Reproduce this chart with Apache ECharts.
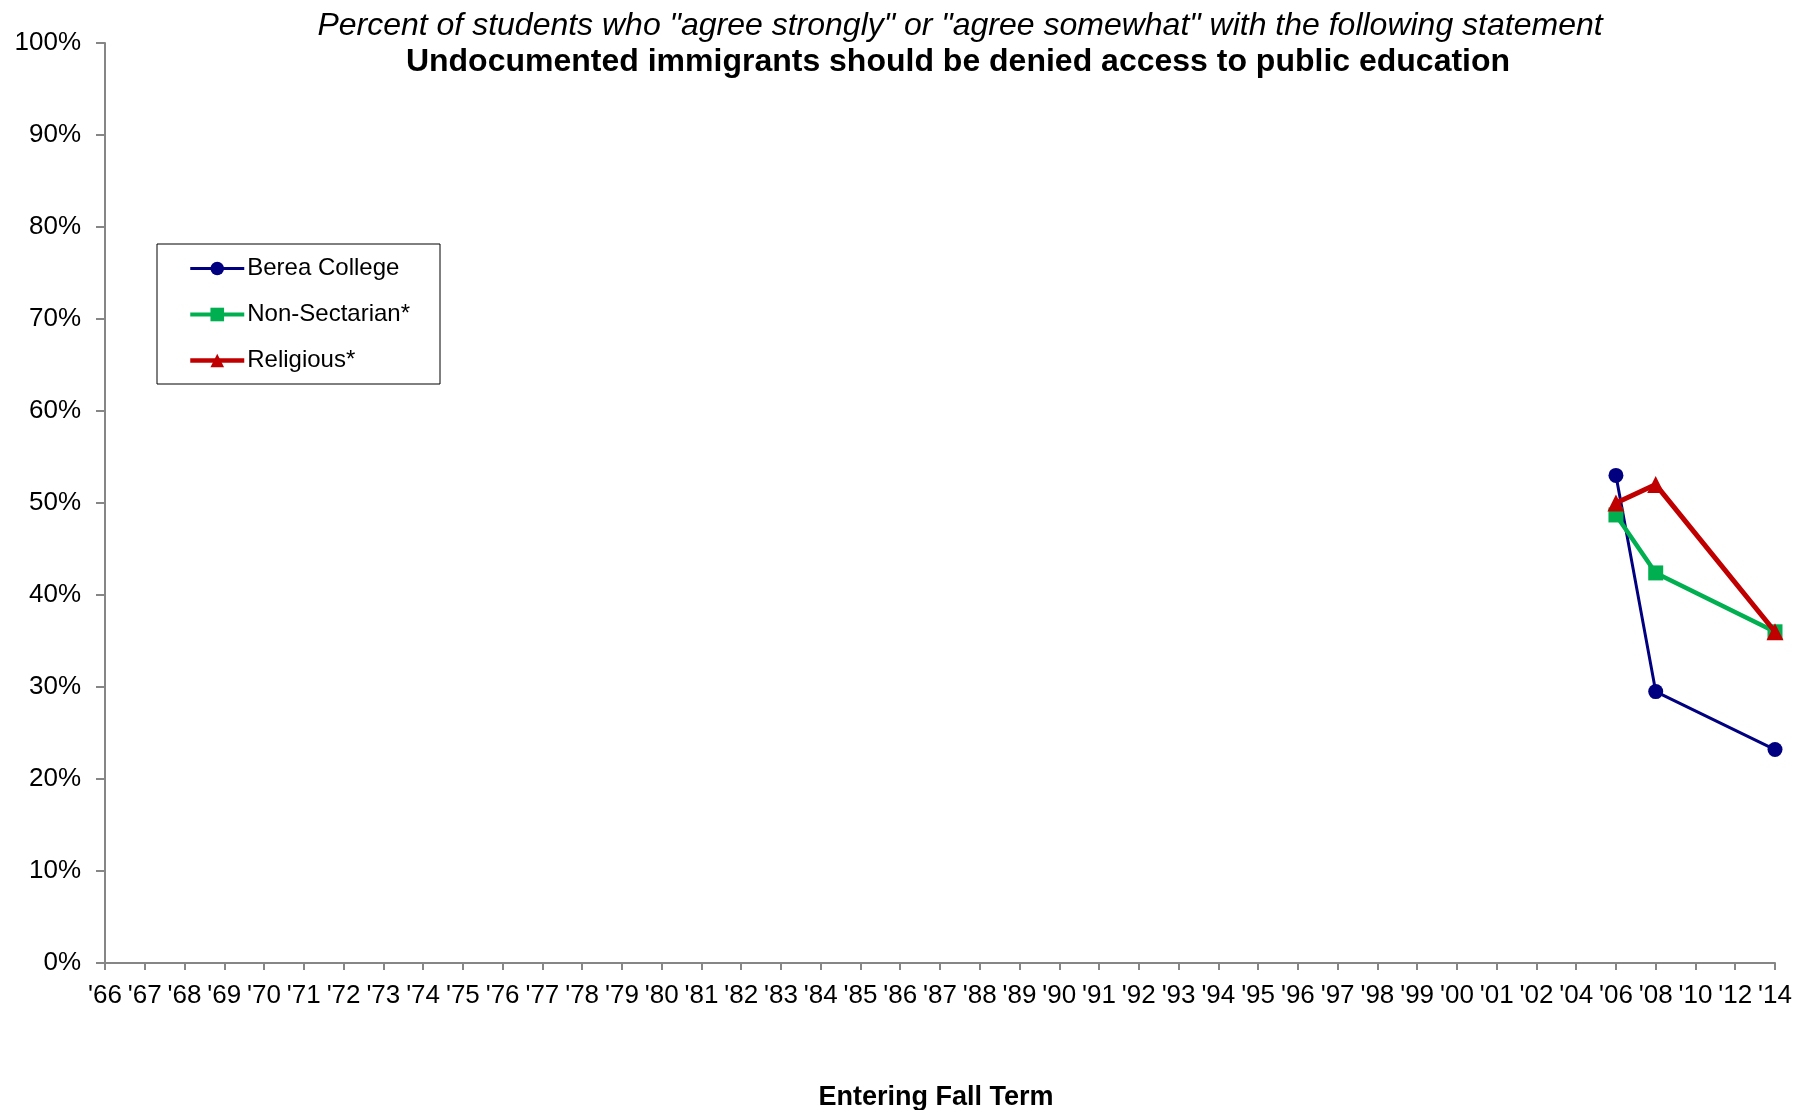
<!DOCTYPE html>
<html>
<head>
<meta charset="utf-8">
<script src="https://cdn.jsdelivr.net/npm/echarts@6/dist/echarts.min.js"></script>
<style>
html,body{margin:0;padding:0;background:#fff;}
#chart{width:1812px;height:1110px;}
</style>
</head>
<body>
<div id="chart"></div>
<script>
const categories = ["'66","'67","'68","'69","'70","'71","'72","'73","'74","'75","'76","'77","'78","'79","'80","'81","'82","'83","'84","'85","'86","'87","'88","'89","'90","'91","'92","'93","'94","'95","'96","'97","'98","'99","'00","'01","'02","'04","'06","'08","'10","'12","'14"];
const dataYears = ["'06","'08","'14"];
const bereaValues = [53.0, 29.5, 23.2];
const nonSectarianValues = [48.7, 42.4, 36.0];
const religiousValues = [50.0, 52.0, 36.0];

function spread(vals){
  const out = categories.map(() => null);
  dataYears.forEach((y,i) => { out[categories.indexOf(y)] = vals[i]; });
  return out;
}

const FONT = "'Liberation Sans', Arial, sans-serif";
const chart = echarts.init(document.getElementById('chart'), null, {renderer:'canvas'});
chart.setOption({
  backgroundColor: '#ffffff',
  animation: false,
  textStyle: {fontFamily: FONT, color: '#000'},
  title: [
    {text: 'Percent of students who "agree strongly" or "agree somewhat" with the following statement',
     left: 960, top: 10, textAlign: 'center', padding: 0,
     textStyle: {fontFamily: FONT, fontSize: 32, lineHeight: 32, fontStyle: 'italic', fontWeight: 'normal', color: '#000'}},
    {text: 'Undocumented immigrants should be denied access to public education',
     left: 958, top: 46, textAlign: 'center', padding: 0,
     textStyle: {fontFamily: FONT, fontSize: 32, lineHeight: 32, fontWeight: 'bold', color: '#000'}}
  ],
  legend: {
    orient: 'vertical',
    left: 157, top: 244,
    borderColor: '#000', borderWidth: 1,
    padding: [12, 30, 11, 31],
    itemWidth: 54, itemHeight: 17, itemGap: 21,
    textStyle: {fontFamily: FONT, fontSize: 24, lineHeight: 25, color: '#000', padding: [0,0,0,-2]},
    data: [
      {name: 'Berea College', lineStyle: {width: 3}},
      {name: 'Non-Sectarian*', lineStyle: {width: 4}},
      {name: 'Religious*', lineStyle: {width: 4.5}}
    ]
  },
  grid: {left: 105, right: 37, top: 43, bottom: 147, containLabel: false, outerBoundsMode: 'none'},
  xAxis: {
    type: 'category', data: categories, boundaryGap: false,
    name: 'Entering Fall Term', nameLocation: 'middle', nameGap: 121,
    nameTextStyle: {fontFamily: FONT, fontSize: 27, fontWeight: 'bold', color: '#000', padding: [0, 8, 0, 0]},
    axisLine: {lineStyle: {color: '#868686', width: 2}},
    axisTick: {show: true, inside: false, length: 7, alignWithLabel: true, interval: 0, lineStyle: {color: '#868686', width: 2}},
    axisLabel: {interval: 0, fontFamily: FONT, fontSize: 26, color: '#000', margin: 20},
    splitLine: {show: false}
  },
  yAxis: {
    type: 'value', min: 0, max: 100, interval: 10,
    axisLine: {show: true, lineStyle: {color: '#868686', width: 2}},
    axisTick: {show: true, inside: false, length: 9, lineStyle: {color: '#868686', width: 2}},
    axisLabel: {fontFamily: FONT, fontSize: 26, color: '#000', margin: 24, formatter: '{value}%'},
    splitLine: {show: false}
  },
  series: [
    {name: 'Berea College', type: 'line', data: spread(bereaValues), connectNulls: true,
     symbol: 'circle', symbolSize: 15, color: '#000080',
     lineStyle: {color: '#000080', width: 3}, itemStyle: {color: '#000080'}, z: 2},
    {name: 'Non-Sectarian*', type: 'line', data: spread(nonSectarianValues), connectNulls: true,
     symbol: 'rect', symbolSize: 15, color: '#00B050',
     lineStyle: {color: '#00B050', width: 4.5}, itemStyle: {color: '#00B050'}, z: 3},
    {name: 'Religious*', type: 'line', data: spread(religiousValues), connectNulls: true,
     symbol: 'triangle', symbolSize: 17, color: '#C00000',
     lineStyle: {color: '#C00000', width: 5}, itemStyle: {color: '#C00000'}, z: 4}
  ]
});
</script>
</body>
</html>
